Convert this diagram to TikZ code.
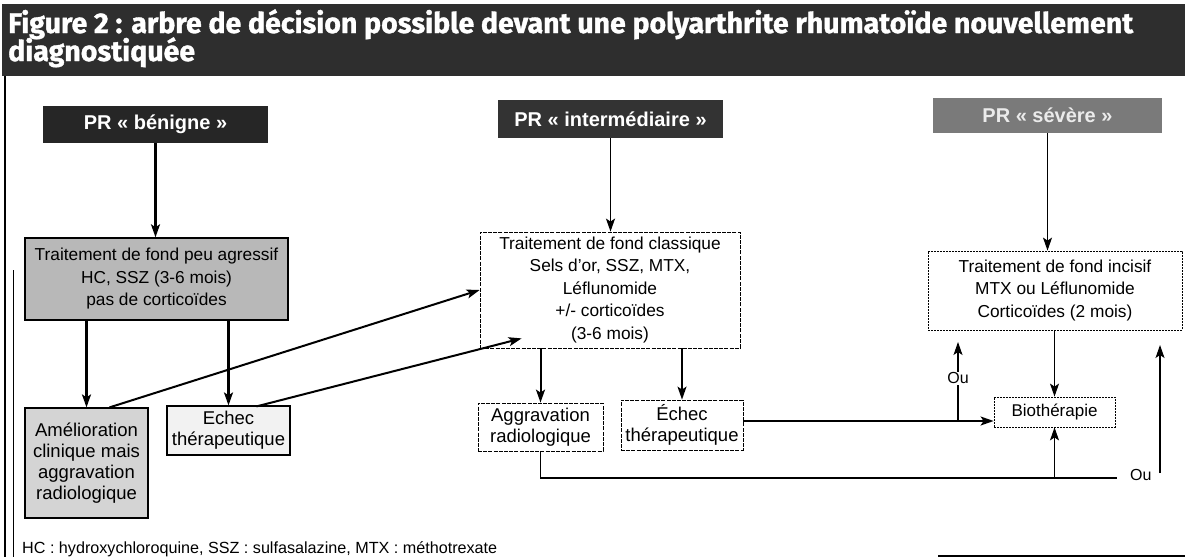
\documentclass[tikz,border=0pt]{standalone}
\usepackage{fontspec}
\setmainfont{Liberation Sans}
\newfontfamily\titlefont{Fira Sans}
\usetikzlibrary{arrows.meta,calc}
\newlength\titlewd
\newlength\notewd
\newcommand\titlelineone{Figure 2 : arbre de décision possible devant une polyarthrite rhumatoïde nouvellement}
\newcommand\notetext{HC : hydroxychloroquine, SSZ : sulfasalazine, MTX : méthotrexate}
% fit the title and the note to their widths
\AtBeginDocument{%
  \settowidth\titlewd{\titlefont\bfseries\fontsize{20}{24}\selectfont\titlelineone}%
  \pgfmathsetmacro\titlesz{1125/\titlewd*20}%
  \settowidth\notewd{\fontsize{16}{18}\selectfont\notetext}%
  \pgfmathsetmacro\notesz{475/\notewd*16}%
}

\begin{document}
\begin{tikzpicture}[x=1pt,y=-1pt,
  tip/.style={-{Stealth[length=13pt,width=9pt,inset=3pt]}},
  heavy/.style={line width=2.2pt},
  medium/.style={line width=1.7pt},
  light/.style={line width=1.1pt},
  hdr/.style={fill=black!85,text=white,inner sep=0pt,
    font=\bfseries\fontsize{20}{22}\selectfont,minimum width=225pt,minimum height=37pt},
  box/.style={draw,line width=0.9pt,align=center,inner sep=0pt,
    font=\fontsize{17.3}{22.5}\selectfont},
  smallbox/.style={box,font=\fontsize{18.5}{21}\selectfont},
  thinbox/.style={dash pattern=on 4pt off 1.2pt,line width=0.8pt},
  oulabel/.style={fill=white,inner sep=1pt,font=\fontsize{16}{18}\selectfont},
  titletext/.style={anchor=base west,inner sep=0pt,text=white,
    font=\titlefont\bfseries\fontsize{\titlesz}{\titlesz}\selectfont\addfontfeatures{FakeBold=1.2}}
]
\useasboundingbox (0,0) rectangle (1185,557);

% title banner
\fill[black!82] (2,4) rectangle (1185,76);
\node[titletext] (title1) at (8,33) {\titlelineone};
\node[titletext] (title2) at (8,61) {diagnostiquée};

% frame
\draw[line width=2pt] (5,76) -- (5,557);
\draw[line width=1pt] (13,270) -- (13,557);
\draw[line width=2pt] (938,556) -- (1185,556);

% severity headers
\node[hdr] (benigne) at (155.5,124.5) {PR~«~bénigne~»};
\node[hdr,fill=black!80,minimum height=38pt] (inter) at (610.5,119) {PR~«~intermédiaire~»};
\node[hdr,fill=black!52,text=black!8,minimum width=229pt,minimum height=35pt]
  (severe) at (1047.5,115.5) {PR~«~sévère~»};

% first-line treatments
\node[box,fill=black!28,line width=1.4pt,minimum width=263pt,minimum height=82pt]
  (peu) at (156.5,279) {Traitement de fond peu agressif\\HC, SSZ (3-6 mois)\\pas de corticoïdes};
\node[box,thinbox,minimum width=260pt,minimum height=116pt]
  (classic) at (610,290) {Traitement de fond classique\\Sels d'or, SSZ, MTX,\\Léflunomide\\+/- corticoïdes\\(3-6 mois)};
\node[box,thinbox,dash pattern=on 2pt off 1pt,minimum width=254pt,minimum height=79pt]
  (incisif) at (1055,290.5) {Traitement de fond incisif\\MTX ou Léflunomide\\Corticoïdes (2 mois)};

% outcomes
\node[smallbox,fill=black!17,line width=1.2pt,minimum width=123pt,minimum height=110pt]
  (amel) at (86.5,463) {Amélioration\\clinique mais\\aggravation\\radiologique};
\node[smallbox,fill=black!5,line width=1.2pt,minimum width=123pt,minimum height=49pt]
  (echec1) at (228.5,430.5) {Echec\\thérapeutique};
\node[smallbox,thinbox,minimum width=125pt,minimum height=48pt]
  (aggr) at (540.5,427) {Aggravation\\radiologique};
\node[smallbox,thinbox,minimum width=122pt,minimum height=50pt]
  (echec2) at (682,425) {Échec\\thérapeutique};
\node[box,thinbox,dash pattern=on 2pt off 1pt,font=\fontsize{17}{20}\selectfont,
  minimum width=121pt,minimum height=30pt]
  (bio) at (1054.5,412) {Biothérapie};

% free ends of the connectors
\coordinate (ouA) at (958,421);
\coordinate (ouTip) at (958,342);
\coordinate (ouB) at (1117,478);
\coordinate (riseA) at (1160,473);
\coordinate (riseTip) at (1160,345);

% connectors
\draw[heavy,tip] (benigne.south) -- (peu.north -| benigne.south);
\draw[medium,tip] (inter.south) -- (classic.north -| inter.south);
\draw[light,tip] (severe.south) -- (incisif.north -| severe.south);

\draw[heavy,tip] (amel.north |- peu.south) -- (amel.north);
\draw[heavy,tip] (echec1.north |- peu.south) -- (echec1.north);
\draw[line width=2pt,tip] ($(amel.north)+(23,0)$) -- (classic.west);
\draw[line width=2pt,tip] ($(echec1.north)+(28,1)$) -- ($(classic.south west)+(42,-10)$);

\draw[line width=2pt,tip] (aggr.north |- classic.south) -- (aggr.north);
\draw[medium,tip] (echec2.north |- classic.south) -- (echec2.north);

\draw[line width=1.8pt,tip] ($(echec2.east)+(0,-4)$) -- (bio.west |- ouA);
\draw[light,tip] (ouA) -- (ouTip) node[oulabel,pos=0.54] (ou1) {Ou};
\draw[light,tip] (incisif.south -| bio.north) -- (bio.north);

\draw[line width=1.8pt] (aggr.south) |- (ouB);
\draw[light,tip] (bio.south |- ouB) -- (bio.south);
\node[oulabel,anchor=west] (ou2) at (1129,475) {Ou};
\draw[light,tip] (riseA) -- (riseTip);

% abbreviations
\node[anchor=base west,inner sep=0pt,font=\fontsize{\notesz}{\notesz}\selectfont]
  (note) at (22,553) {\notetext};
\end{tikzpicture}
\end{document}
